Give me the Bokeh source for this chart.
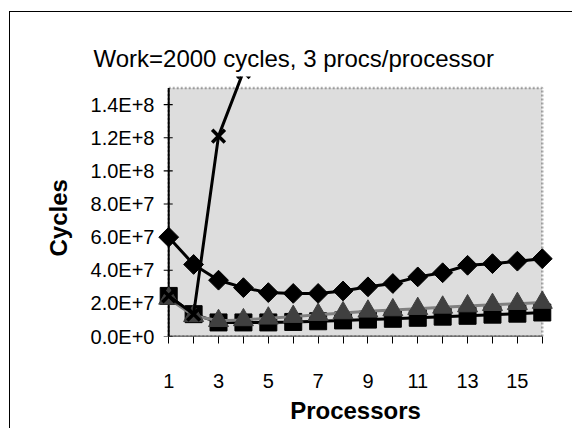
from bokeh.plotting import figure
from bokeh.models import Range1d, FixedTicker, BoxAnnotation, Title
from bokeh.embed import file_html
from bokeh.resources import INLINE

# ---- data (cycles) ----
processors = list(range(1, 17))
diamond_cycles = [6.0e7, 4.35e7, 3.4e7, 2.95e7, 2.65e7, 2.6e7, 2.6e7, 2.75e7,
                  3.0e7, 3.2e7, 3.6e7, 3.85e7, 4.3e7, 4.4e7, 4.55e7, 4.7e7]
square_cycles = [2.45e7, 1.35e7, 0.85e7, 0.85e7, 0.85e7, 0.88e7, 0.92e7, 0.97e7,
                 1.02e7, 1.07e7, 1.13e7, 1.2e7, 1.25e7, 1.32e7, 1.38e7, 1.45e7]
triangle_cycles = [2.3e7, 1.25e7, 0.95e7, 1.0e7, 1.1e7, 1.2e7, 1.32e7, 1.42e7,
                   1.52e7, 1.6e7, 1.68e7, 1.76e7, 1.84e7, 1.92e7, 1.98e7, 2.05e7]
cross_processors = [1, 2, 3, 4]
cross_cycles = [2.45e7, 1.35e7, 1.21e8, 1.6e8]

y_ticks = [0, 2e7, 4e7, 6e7, 8e7, 1e8, 1.2e8, 1.4e8]
y_tick_labels = ["0.0E+0", "2.0E+7", "4.0E+7", "6.0E+7", "8.0E+7", "1.0E+8", "1.2E+8", "1.4E+8"]
x_tick_labels = [str(v) if v % 2 == 1 else "" for v in processors]

title_text = "Work=2000 cycles, 3 procs/processor"
x_title = "Processors"
y_title = "Cycles"

FONT = "Liberation Sans"

X0, X1 = 0.55, 16.45
Y0, Y1 = 0, 1.57e8
Y_TOP = 1.5e8
FW, FH = 396, 260
ML, MT, MR, MB = 147, 64, 19, 92

p = figure(frame_width=FW, frame_height=FH, min_border_left=ML, min_border_right=MR,
           min_border_top=MT, min_border_bottom=MB,
           x_range=Range1d(X0, X1), y_range=Range1d(Y0, Y1),
           output_backend="svg", toolbar_location=None)
p.styles = {"border-left": "1px solid black", "border-top": "1px solid black",
            "margin-left": "9px", "margin-top": "11px"}
p.background_fill_color = "white"
p.border_fill_color = "white"
p.outline_line_color = None
p.xgrid.visible = False
p.ygrid.visible = False

# title
p.title.text = title_text
p.title.align = "left"
p.title.offset = -64
p.title.standoff = 10
p.title.vertical_align = "bottom"
p.title.text_font = FONT
p.title.text_font_size = "24px"
p.title.text_font_style = "normal"
p.title.text_color = "black"

# y axis title as a side title
p.add_layout(Title(text=y_title, align="left", offset=80, standoff=32,
                   vertical_align="bottom", text_font=FONT, text_font_size="24px",
                   text_font_style="bold", text_color="black"), "left")

# plot area
p.add_layout(BoxAnnotation(left=1, right=16, bottom=0, top=Y_TOP,
                           fill_color="#DDDDDD", fill_alpha=1.0,
                           line_color="black", line_width=2.5, line_dash="2 2",
                           level="underlay"))
p.segment(x0=[1], y0=[0], x1=[1], y1=[Y_TOP], line_color="black", line_width=2)
p.segment(x0=[1], y0=[0], x1=[16], y1=[0], line_color="black", line_width=1.5)

# y tick marks crossing the value axis at x=1 (5px out, 4px in)
px_per_unit = FW / (X1 - X0)
p.segment(x0=[1 - 5 / px_per_unit] * len(y_ticks), y0=y_ticks,
          x1=[1 + 4 / px_per_unit] * len(y_ticks), y1=y_ticks,
          line_color="black", line_width=1.2)

# series
p.line(processors, diamond_cycles, line_color="black", line_width=3)
p.scatter(processors, diamond_cycles, marker="square", angle=0.785398, size=14,
          fill_color="black", line_color="black")

p.line(processors, square_cycles, line_color="black", line_width=3)
p.scatter(processors, square_cycles, marker="square", size=17,
          fill_color="black", line_color="black")

p.line(processors, triangle_cycles, line_color="#808080", line_width=3)
p.scatter(processors, triangle_cycles, marker="triangle", size=20,
          fill_color="#404040", line_color="#404040")

p.line(cross_processors, cross_cycles, line_color="black", line_width=3)
p.scatter(cross_processors, cross_cycles, marker="x", size=18,
          line_color="black", line_width=3.5)

# axes
xa = p.xaxis[0]
xa.ticker = FixedTicker(ticks=processors)
xa.major_label_overrides = {v: lab for v, lab in zip(processors, x_tick_labels)}
xa.axis_line_color = None
xa.major_tick_out = 7
xa.major_tick_in = 0
xa.major_tick_line_color = "black"
xa.minor_tick_line_color = None
xa.major_label_standoff = 30
xa.major_label_text_font = FONT
xa.major_label_text_font_size = "20px"
xa.major_label_text_color = "black"
xa.axis_label = x_title
xa.axis_label_standoff = 6
xa.axis_label_text_font = FONT
xa.axis_label_text_font_size = "24px"
xa.axis_label_text_font_style = "bold"
xa.axis_label_text_color = "black"

ya = p.yaxis[0]
ya.ticker = FixedTicker(ticks=y_ticks)
ya.major_label_overrides = {v: lab for v, lab in zip(y_ticks, y_tick_labels)}
ya.axis_line_color = None
ya.major_tick_out = 0
ya.major_tick_in = 0
ya.major_tick_line_color = None
ya.minor_tick_line_color = None
ya.major_label_standoff = 3
ya.major_label_text_font = FONT
ya.major_label_text_font_size = "20px"
ya.major_label_text_color = "black"

open("out.html", "w").write(file_html(p, INLINE))
